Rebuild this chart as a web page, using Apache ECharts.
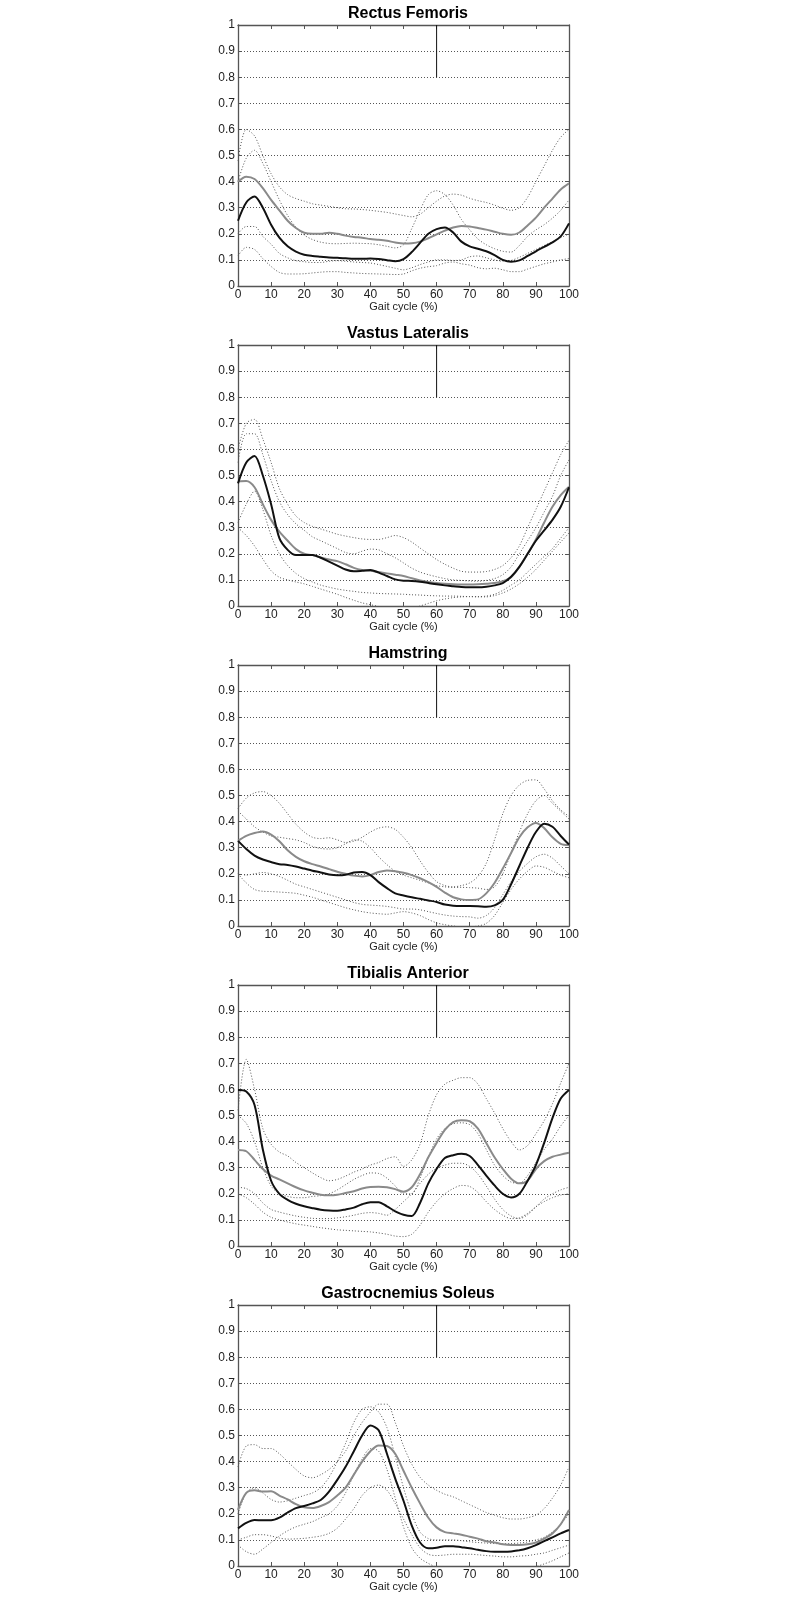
<!DOCTYPE html>
<html>
<head>
<meta charset="utf-8">
<script src="https://cdn.jsdelivr.net/npm/echarts@6/dist/echarts.min.js"></script>
<style>
    html, body { margin: 0; padding: 0; background: #fff; }
    #chart { width: 799px; height: 1599px; }
</style>
</head>
<body>
<div id="chart"></div>
<script>
    // gait cycle positions (%)
    var gaitX = [0, 2.5, 5, 7.5, 10, 12.5, 15, 17.5, 20, 22.5,
        25, 27.5, 30, 32.5, 35, 37.5, 40, 42.5, 45, 47.5,
        50, 52.5, 55, 57.5, 60, 62.5, 65, 67.5, 70, 72.5,
        75, 77.5, 80, 82.5, 85, 87.5, 90, 92.5, 95, 97.5, 100];

    var muscles = ['Rectus Femoris', 'Vastus Lateralis', 'Hamstring', 'Tibialis Anterior', 'Gastrocnemius Soleus'];
    var marker = [[60, 0.8], [60, 1]];

    // Rectus Femoris
    var rfBlack = [0.25, 0.32, 0.343, 0.30, 0.235, 0.185, 0.152, 0.132, 0.12, 0.115,
        0.112, 0.109, 0.108, 0.106, 0.104, 0.104, 0.105, 0.103, 0.099, 0.095,
        0.103, 0.13, 0.165, 0.2, 0.218, 0.224, 0.205, 0.17, 0.152, 0.143,
        0.133, 0.118, 0.1, 0.093, 0.098, 0.115, 0.133, 0.15, 0.167, 0.19, 0.24];
    var rfGray = [0.40, 0.419, 0.41, 0.375, 0.33, 0.29, 0.25, 0.222, 0.204, 0.2,
        0.2, 0.204, 0.2, 0.193, 0.188, 0.185, 0.18, 0.177, 0.173, 0.167,
        0.163, 0.164, 0.17, 0.183, 0.198, 0.212, 0.224, 0.23, 0.228, 0.222,
        0.216, 0.208, 0.2, 0.196, 0.205, 0.232, 0.262, 0.3, 0.335, 0.37, 0.393];
    var rfDot = [
        [0.48, 0.6, 0.575, 0.5, 0.43, 0.38, 0.35, 0.335, 0.325, 0.315,
            0.31, 0.305, 0.3, 0.296, 0.295, 0.293, 0.29, 0.286, 0.282, 0.276,
            0.27, 0.265, 0.275, 0.3, 0.325, 0.345, 0.352, 0.348, 0.336, 0.327,
            0.32, 0.31, 0.298, 0.29, 0.3, 0.34, 0.4, 0.46, 0.52, 0.57, 0.6],
        [0.40, 0.49, 0.52, 0.47, 0.4, 0.33, 0.27, 0.225, 0.195, 0.178,
            0.168, 0.163, 0.162, 0.163, 0.164, 0.163, 0.162, 0.158, 0.152, 0.146,
            0.158, 0.22, 0.29, 0.35, 0.365, 0.35, 0.31, 0.255, 0.215, 0.18,
            0.158, 0.143, 0.133, 0.13, 0.155, 0.19, 0.215, 0.235, 0.26, 0.29, 0.33],
        [0.2, 0.228, 0.228, 0.19, 0.16, 0.125, 0.108, 0.097, 0.093, 0.09,
            0.09, 0.095, 0.097, 0.095, 0.092, 0.09, 0.088, 0.082, 0.075, 0.068,
            0.062, 0.07, 0.082, 0.092, 0.1, 0.1, 0.098, 0.1, 0.112, 0.115,
            0.108, 0.1, 0.095, 0.098, 0.11, 0.125, 0.14, 0.155, 0.17, 0.185, 0.2],
        [0.115, 0.148, 0.14, 0.105, 0.075, 0.052, 0.046, 0.046, 0.047, 0.05,
            0.053, 0.055, 0.055, 0.052, 0.05, 0.048, 0.047, 0.046, 0.045, 0.044,
            0.046, 0.058, 0.068, 0.074, 0.078, 0.088, 0.092, 0.085, 0.08, 0.07,
            0.066, 0.068, 0.062, 0.055, 0.055, 0.065, 0.075, 0.085, 0.092, 0.1, 0.105]
    ];

    // Vastus Lateralis
    var vlBlack = [0.47, 0.55, 0.575, 0.5, 0.39, 0.26, 0.215, 0.195, 0.195, 0.195,
        0.185, 0.17, 0.155, 0.14, 0.133, 0.135, 0.138, 0.128, 0.115, 0.102,
        0.097, 0.096, 0.093, 0.088, 0.083, 0.079, 0.076, 0.073, 0.072, 0.072,
        0.074, 0.079, 0.088, 0.112, 0.15, 0.2, 0.25, 0.29, 0.33, 0.38, 0.455];
    var vlGray = [0.478, 0.479, 0.455, 0.39, 0.33, 0.285, 0.25, 0.218, 0.2, 0.195,
        0.186, 0.178, 0.172, 0.16, 0.146, 0.138, 0.135, 0.13, 0.125, 0.12,
        0.115, 0.106, 0.098, 0.092, 0.088, 0.085, 0.083, 0.082, 0.082, 0.083,
        0.085, 0.088, 0.095, 0.11, 0.15, 0.2, 0.255, 0.32, 0.38, 0.425, 0.457];
    var vlDot = [
        [0.6, 0.7, 0.715, 0.64, 0.55, 0.45, 0.39, 0.345, 0.32, 0.305,
            0.295, 0.285, 0.275, 0.268, 0.262, 0.257, 0.255, 0.255, 0.262, 0.27,
            0.262, 0.245, 0.222, 0.2, 0.178, 0.16, 0.145, 0.133, 0.13, 0.13,
            0.132, 0.14, 0.155, 0.185, 0.23, 0.3, 0.37, 0.44, 0.51, 0.58, 0.635],
        [0.55, 0.66, 0.66, 0.58, 0.48, 0.4, 0.35, 0.315, 0.29, 0.265,
            0.25, 0.235, 0.22, 0.205, 0.2, 0.21, 0.218, 0.215, 0.2, 0.185,
            0.165, 0.145, 0.13, 0.12, 0.112, 0.105, 0.1, 0.098, 0.096, 0.095,
            0.098, 0.105, 0.12, 0.15, 0.2, 0.25, 0.3, 0.36, 0.42, 0.5, 0.56],
        [0.32, 0.39, 0.44, 0.37, 0.27, 0.2, 0.155, 0.125, 0.105, 0.092,
            0.08, 0.072, 0.065, 0.06, 0.056, 0.052, 0.05, 0.048, 0.047, 0.046,
            0.045, 0.043, 0.042, 0.04, 0.039, 0.038, 0.038, 0.037, 0.036, 0.036,
            0.038, 0.045, 0.06, 0.08, 0.1, 0.13, 0.16, 0.19, 0.22, 0.26, 0.3],
        [0.3, 0.27, 0.23, 0.18, 0.135, 0.11, 0.1, 0.092, 0.085, 0.075,
            0.065, 0.055, 0.045, 0.033, 0.022, 0.012, 0.005, -0.002, -0.01, -0.015,
            -0.015, -0.01, 0.0, 0.01, 0.02, 0.027, 0.032, 0.035, 0.036, 0.035,
            0.035, 0.04, 0.05, 0.065, 0.085, 0.11, 0.14, 0.175, 0.21, 0.245, 0.28]
    ];

    // Hamstring
    var hmBlack = [0.326, 0.295, 0.27, 0.255, 0.245, 0.237, 0.234, 0.228, 0.22, 0.212,
        0.205, 0.197, 0.194, 0.196, 0.205, 0.207, 0.195, 0.168, 0.145, 0.125,
        0.117, 0.11, 0.104, 0.098, 0.092, 0.082, 0.078, 0.077, 0.077, 0.076,
        0.074, 0.079, 0.1, 0.16, 0.23, 0.3, 0.36, 0.392, 0.38, 0.345, 0.312];
    var hmGray = [0.326, 0.345, 0.356, 0.362, 0.35, 0.325, 0.29, 0.265, 0.248, 0.237,
        0.228, 0.218, 0.208, 0.2, 0.193, 0.19, 0.195, 0.207, 0.213, 0.21,
        0.204, 0.195, 0.183, 0.168, 0.15, 0.128, 0.11, 0.102, 0.1, 0.102,
        0.125, 0.165, 0.22, 0.28, 0.34, 0.378, 0.395, 0.375, 0.34, 0.315, 0.31];
    var hmDot = [
        [0.45, 0.49, 0.51, 0.515, 0.5, 0.47, 0.43, 0.39, 0.36, 0.34,
            0.335, 0.338, 0.33, 0.32, 0.325, 0.34, 0.36, 0.375, 0.38, 0.37,
            0.34, 0.3, 0.25, 0.205, 0.17, 0.155, 0.15, 0.155, 0.165, 0.19,
            0.24, 0.33, 0.43, 0.5, 0.54, 0.558, 0.56, 0.525, 0.48, 0.445, 0.42],
        [0.44, 0.41, 0.38, 0.36, 0.345, 0.34, 0.335, 0.33, 0.32, 0.305,
            0.297, 0.295, 0.3, 0.315, 0.33, 0.325, 0.3, 0.265, 0.235, 0.21,
            0.195, 0.185, 0.175, 0.165, 0.155, 0.15, 0.148, 0.148, 0.147, 0.145,
            0.14, 0.15, 0.2, 0.28, 0.36, 0.43, 0.48, 0.5, 0.47, 0.44, 0.41],
        [0.2, 0.195, 0.2, 0.205, 0.2, 0.19, 0.175, 0.16, 0.15, 0.14,
            0.13, 0.12, 0.11, 0.1, 0.09, 0.083, 0.08, 0.078, 0.075, 0.07,
            0.065, 0.065, 0.062, 0.055, 0.048, 0.042, 0.038, 0.036, 0.035, 0.03,
            0.04, 0.07, 0.12, 0.17, 0.21, 0.24, 0.265, 0.275, 0.26, 0.23, 0.2],
        [0.2, 0.165, 0.14, 0.133, 0.132, 0.13, 0.128, 0.125, 0.118, 0.11,
            0.1, 0.09, 0.08, 0.07, 0.062, 0.055, 0.05, 0.047, 0.045, 0.05,
            0.055, 0.05, 0.04, 0.025, 0.012, 0.005, 0.0, -0.003, -0.003, 0.0,
            0.01, 0.04, 0.09, 0.14, 0.18, 0.21, 0.23, 0.225, 0.21, 0.195, 0.185]
    ];

    // Tibialis Anterior
    var taBlack = [0.598, 0.592, 0.54, 0.37, 0.25, 0.2, 0.177, 0.162, 0.152, 0.145,
        0.139, 0.136, 0.135, 0.14, 0.147, 0.16, 0.168, 0.168, 0.152, 0.133,
        0.12, 0.115, 0.165, 0.24, 0.295, 0.337, 0.348, 0.353, 0.345, 0.31,
        0.27, 0.232, 0.2, 0.186, 0.2, 0.25, 0.31, 0.395, 0.49, 0.565, 0.598];
    var taGray = [0.368, 0.363, 0.33, 0.295, 0.27, 0.255, 0.24, 0.225, 0.213, 0.204,
        0.196, 0.194, 0.196, 0.203, 0.21, 0.22, 0.226, 0.227, 0.225, 0.218,
        0.208, 0.225, 0.275, 0.34, 0.395, 0.445, 0.475, 0.482, 0.478, 0.45,
        0.395, 0.34, 0.295, 0.258, 0.24, 0.25, 0.295, 0.325, 0.342, 0.35, 0.357];
    var taDot = [
        [0.52, 0.715, 0.6, 0.45, 0.39, 0.36, 0.345, 0.32, 0.3, 0.28,
            0.262, 0.25, 0.255, 0.268, 0.283, 0.295, 0.31, 0.32, 0.335, 0.342,
            0.305, 0.33, 0.39, 0.5, 0.58, 0.62, 0.635, 0.645, 0.645, 0.62,
            0.565, 0.51, 0.45, 0.4, 0.368, 0.385, 0.43, 0.48, 0.545, 0.625, 0.7],
        [0.5, 0.47, 0.4, 0.3, 0.23, 0.2, 0.19, 0.185, 0.185, 0.19,
            0.193, 0.2, 0.215, 0.235, 0.255, 0.27, 0.28, 0.278, 0.26, 0.23,
            0.2, 0.2, 0.26, 0.34, 0.41, 0.45, 0.468, 0.472, 0.465, 0.43,
            0.37, 0.31, 0.27, 0.245, 0.24, 0.27, 0.32, 0.37, 0.41, 0.46, 0.5],
        [0.225, 0.22, 0.2, 0.165, 0.14, 0.13, 0.122, 0.115, 0.11, 0.106,
            0.105, 0.105, 0.108, 0.112, 0.118, 0.125, 0.128, 0.125, 0.118, 0.14,
            0.17, 0.2, 0.24, 0.275, 0.298, 0.31, 0.317, 0.317, 0.305, 0.275,
            0.23, 0.18, 0.14, 0.115, 0.105, 0.12, 0.15, 0.18, 0.2, 0.215, 0.225],
        [0.2, 0.185, 0.16, 0.13, 0.11, 0.1, 0.092, 0.085, 0.08, 0.075,
            0.07, 0.066, 0.062, 0.06, 0.058, 0.056, 0.054, 0.05, 0.045, 0.038,
            0.036, 0.045, 0.08, 0.13, 0.17, 0.2, 0.22, 0.232, 0.228, 0.205,
            0.17, 0.14, 0.118, 0.105, 0.108, 0.125, 0.15, 0.17, 0.185, 0.195, 0.2]
    ];

    // Gastrocnemius Soleus
    var gsBlack = [0.144, 0.165, 0.176, 0.175, 0.175, 0.185, 0.205, 0.222, 0.23, 0.24,
        0.253, 0.285, 0.33, 0.38, 0.44, 0.5, 0.538, 0.52, 0.43, 0.335,
        0.25, 0.155, 0.09, 0.068, 0.07, 0.076, 0.076, 0.072, 0.068, 0.062,
        0.057, 0.055, 0.055, 0.056, 0.06, 0.068, 0.08, 0.095, 0.11, 0.125, 0.138];
    var gsGray = [0.215, 0.28, 0.29, 0.285, 0.286, 0.27, 0.255, 0.237, 0.225, 0.222,
        0.23, 0.245, 0.27, 0.3, 0.35, 0.4, 0.44, 0.462, 0.46, 0.43,
        0.365, 0.3, 0.24, 0.185, 0.148, 0.13, 0.125, 0.12, 0.112, 0.105,
        0.095, 0.09, 0.083, 0.08, 0.08, 0.083, 0.09, 0.105, 0.125, 0.16, 0.215];
    var gsDot = [
        [0.38, 0.46, 0.465, 0.45, 0.45, 0.43, 0.4, 0.37, 0.345, 0.338,
            0.35, 0.37, 0.4, 0.44, 0.5, 0.55, 0.59, 0.62, 0.62, 0.55,
            0.46, 0.39, 0.34, 0.31, 0.29, 0.275, 0.265, 0.25, 0.235, 0.22,
            0.205, 0.195, 0.185, 0.18, 0.18, 0.185, 0.195, 0.22, 0.26, 0.31, 0.38],
        [0.2, 0.28, 0.3, 0.28, 0.255, 0.245, 0.25, 0.26, 0.27, 0.28,
            0.3, 0.34, 0.4, 0.47, 0.55, 0.6, 0.61, 0.59, 0.53, 0.42,
            0.3, 0.2, 0.13, 0.105, 0.1, 0.1, 0.1, 0.097, 0.093, 0.09,
            0.088, 0.086, 0.085, 0.086, 0.088, 0.092, 0.1, 0.11, 0.13, 0.16, 0.2],
        [0.1, 0.11, 0.12, 0.12, 0.115, 0.107, 0.103, 0.104, 0.106, 0.11,
            0.115, 0.125, 0.145, 0.18, 0.22, 0.27, 0.3, 0.31, 0.29, 0.24,
            0.18, 0.12, 0.07, 0.045, 0.04, 0.042, 0.045, 0.045, 0.045, 0.043,
            0.04, 0.038, 0.035, 0.035, 0.038, 0.04, 0.045, 0.05, 0.06, 0.07, 0.08],
        [0.08, 0.055, 0.045, 0.065, 0.09, 0.115, 0.135, 0.15, 0.16, 0.17,
            0.185, 0.2, 0.23, 0.28, 0.35, 0.41, 0.45, 0.44, 0.37, 0.26,
            0.15, 0.07, 0.03, 0.01, -0.005, -0.015, -0.02, -0.025, -0.03, -0.03,
            -0.03, -0.03, -0.028, -0.025, -0.02, -0.012, -0.003, 0.008, 0.02, 0.035, 0.05]
    ];

    var panels = [
        { black: rfBlack, gray: rfGray, dots: rfDot },
        { black: vlBlack, gray: vlGray, dots: vlDot },
        { black: hmBlack, gray: hmGray, dots: hmDot },
        { black: taBlack, gray: taGray, dots: taDot },
        { black: gsBlack, gray: gsGray, dots: gsDot }
    ];

    function pairs(vals) {
        return vals.map(function (v, k) { return [gaitX[k], v]; });
    }

    var frameColor = '#555';
    var fontName = 'Liberation Sans, Arial, sans-serif';

    var grids = [], xAxes = [], yAxes = [], titles = [], series = [];
    panels.forEach(function (p, i) {
        var top = 25 + i * 320;
        grids.push({ left: 238, top: top, width: 331, height: 261 });
        titles.push({
            text: muscles[i], left: 403, top: top - 24, textAlign: 'center',
            textStyle: { fontFamily: fontName, fontSize: 16, fontWeight: 'bold', color: '#000' }
        });
        var baseX = {
            gridIndex: i, type: 'value', min: 0, max: 100, interval: 10,
            axisLine: { show: true, onZero: false, lineStyle: { color: frameColor, width: 1.3 } },
            axisTick: { show: true, inside: true, length: 4, lineStyle: { color: frameColor } },
            splitLine: { show: false }
        };
        xAxes.push(Object.assign({}, baseX, {
            position: 'bottom',
            name: 'Gait cycle (%)', nameLocation: 'middle', nameGap: 14,
            nameTextStyle: { fontFamily: fontName, fontSize: 11, color: '#222' },
            axisLabel: { margin: 3, fontFamily: fontName, fontSize: 12, color: '#222' }
        }));
        xAxes.push(Object.assign({}, baseX, { position: 'top', axisLabel: { show: false } }));
        var baseY = {
            gridIndex: i, type: 'value', min: 0, max: 1, interval: 0.1,
            axisLine: { show: true, onZero: false, lineStyle: { color: frameColor, width: 1.3 } },
            axisTick: { show: true, inside: true, length: 4, lineStyle: { color: frameColor } }
        };
        yAxes.push(Object.assign({}, baseY, {
            position: 'left',
            axisLabel: { margin: 3, fontFamily: fontName, fontSize: 12, color: '#222' },
            splitLine: { show: true, lineStyle: { color: '#555', width: 1, type: [1, 2] } }
        }));
        yAxes.push(Object.assign({}, baseY, { position: 'right', axisLabel: { show: false }, splitLine: { show: false } }));

        var ax = { xAxisIndex: i * 2, yAxisIndex: i * 2 };
        p.dots.forEach(function (d) {
            series.push(Object.assign({
                type: 'line', data: pairs(d), symbol: 'none', smooth: 0.3, z: 2,
                lineStyle: { color: '#555', width: 1, type: [1, 2] }
            }, ax));
        });
        series.push(Object.assign({
            type: 'line', data: pairs(p.gray), symbol: 'none', smooth: 0.3, z: 3,
            lineStyle: { color: '#8a8a8a', width: 2 }
        }, ax));
        series.push(Object.assign({
            type: 'line', data: pairs(p.black), symbol: 'none', smooth: 0.3, z: 4,
            lineStyle: { color: '#111', width: 2 }
        }, ax));
        series.push(Object.assign({
            type: 'line', data: marker, symbol: 'none', z: 4,
            lineStyle: { color: '#111', width: 1 }
        }, ax));
    });

    var chart = echarts.init(document.getElementById('chart'));
    chart.setOption({
        animation: false,
        backgroundColor: '#fff',
        title: titles,
        grid: grids,
        xAxis: xAxes,
        yAxis: yAxes,
        series: series
    });
</script>
</body>
</html>
